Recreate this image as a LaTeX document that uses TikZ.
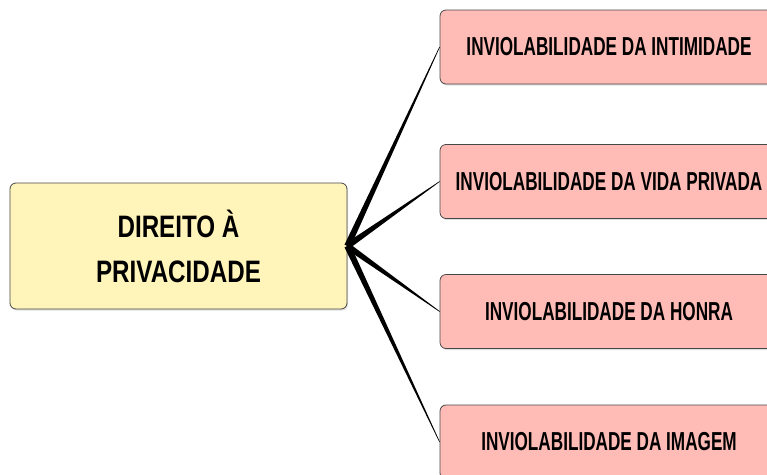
\documentclass[tikz,border=0pt]{standalone}
\usepackage{fontspec}
\setmainfont[FakeStretch=0.66]{Liberation Sans}
\newfontfamily\rootfont[FakeStretch=0.78]{Liberation Sans}
\usetikzlibrary{calc,shadows}

\definecolor{rootyellow}{RGB}{255,244,186}
\definecolor{leafpink}{RGB}{255,188,183}
\definecolor{boxline}{RGB}{72,72,72}

\tikzset{
  mapbox/.style={draw=boxline, line width=0.8pt, rounded corners=6pt, align=center,
    drop shadow={opacity=0.25, shadow xshift=1pt, shadow yshift=-1.5pt}},
  rootbox/.style={mapbox, fill=rootyellow, minimum width=337pt, minimum height=126pt,
    font=\rootfont\bfseries\fontsize{31}{45}\selectfont},
  leafbox/.style={mapbox, fill=leafpink, minimum width=338pt, minimum height=74pt,
    font=\bfseries\fontsize{26}{30}\selectfont},
}

% tapered branch from #1 to #2
\newcommand{\branch}[2]{%
  \fill[black] let \p1=(#1), \p2=(#2), \n1={atan2(\y2-\y1,\x2-\x1)} in
    ($(\p1)+(\n1+90:3.2pt)$) -- ($(\p2)+(\n1+90:0.3pt)$) --
    ($(\p2)+(\n1-90:0.3pt)$) -- ($(\p1)+(\n1-90:3.2pt)$) -- cycle;}

\begin{document}
\begin{tikzpicture}[x=1pt,y=-1pt]
    \useasboundingbox (0,0) rectangle (767,474);
    \node[rootbox] (root) at (178.5,246) {DIREITO À\\PRIVACIDADE};
    \node[leafbox] (intimidade) at (609,47) {INVIOLABILIDADE DA INTIMIDADE};
    \node[leafbox] (vida) at (609,181.5) {INVIOLABILIDADE DA VIDA PRIVADA};
    \node[leafbox] (honra) at (609,311.5) {INVIOLABILIDADE DA HONRA};
    \node[leafbox] (imagem) at (609,442) {INVIOLABILIDADE DA IMAGEM};
    \foreach \leaf in {intimidade,vida,honra,imagem}
        \branch{root.east}{\leaf.west};
\end{tikzpicture}
\end{document}
